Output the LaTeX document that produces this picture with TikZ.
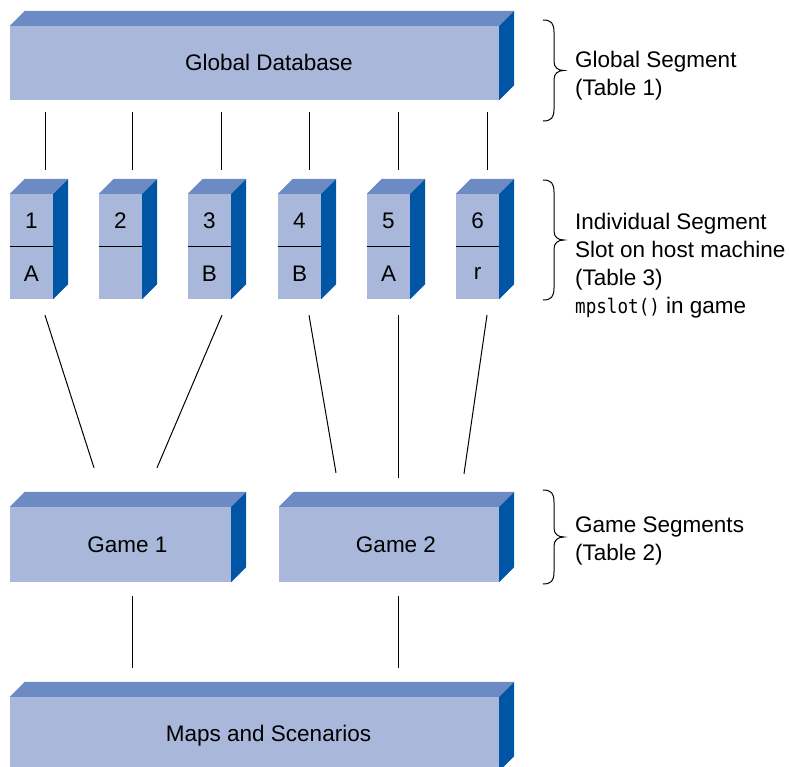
\documentclass[tikz,border=0pt]{standalone}
\usepackage{fontspec}
\setmainfont{Liberation Sans}
\setmonofont[FakeStretch=0.88]{DejaVu Sans Mono}
\usetikzlibrary{calc}

\definecolor{frontc}{HTML}{A9B7DB}
\definecolor{topc}{HTML}{6C8AC4}
\definecolor{sidec}{HTML}{0055A5}

% top and right faces of a box whose front face is the node #1
\newcommand\boxfaces[1]{%
  \fill[topc] (#1.north west) -- ++(15,-15) -- ($(#1.north east)+(15,-15)$) -- (#1.north east) -- cycle;
  \fill[sidec] (#1.north east) -- ++(15,-15) -- ($(#1.south east)+(15,-15)$) -- (#1.south east) -- cycle;
}
% curly brace opening to the left, top end at (#1,#2), bottom end at (#1,#3), tip at mid height
\newcommand\sidebrace[3]{%
  \pgfmathsetmacro\bm{(#2+#3)/2}
  \draw[bracel] (#1,#2) .. controls (#1+8,#2) and (#1+11,#2+3) .. (#1+11,#2+12)
    -- (#1+11,\bm-9) .. controls (#1+11,\bm-3) and (#1+15,\bm) .. (#1+21,\bm)
    .. controls (#1+15,\bm) and (#1+11,\bm+3) .. (#1+11,\bm+9)
    -- (#1+11,#3-12) .. controls (#1+11,#3-3) and (#1+8,#3) .. (#1,#3);
}

\tikzset{
  x=1pt, y=-1pt,
  front/.style={fill=frontc, draw=none, inner sep=0pt, rectangle},
  boxtext/.style={inner sep=0pt, font=\fontsize{22.5}{27}\selectfont},
  slotbox/.style={front, minimum width=43pt, minimum height=105pt},
  slotlabel/.style={inner sep=0pt, font=\fontsize{22.5}{27}\selectfont},
  link/.style={draw=black, line width=1pt},
  divider/.style={draw=black, line width=1.3pt},
  bracel/.style={draw=black, line width=1pt},
  note/.style={anchor=west, align=left, inner sep=0pt,
    font=\fontsize{22.5}{28}\selectfont},
}

\begin{document}
\begin{tikzpicture}
\useasboundingbox (0,0) rectangle (789,766);
\clip (0,0) rectangle (789,766);

% boxes
\node[front, minimum width=489pt, minimum height=74pt] (gd) at (254.5,63) {};
\boxfaces{gd}
\node[boxtext] (gdt) at ($(gd.center)+(14.5,-1)$) {Global Database};

\foreach \i/\lx/\nm/\lab in {1/10/1/A, 2/99/2/, 3/188/3/B, 4/278/4/B, 5/367/5/A, 6/456/6/r}{
  \node[slotbox] (s\i) at (\lx+21.5,246.5) {};
  \boxfaces{s\i}
  \draw[divider] (s\i.west) -- (s\i.east);
  \node[slotlabel] (n\i) at ($(s\i.center)+(0,-26)$) {\nm};
  \node[slotlabel] (l\i) at ($(s\i.center)+(0,27)$) {\lab};
}

\node[front, minimum width=221pt, minimum height=75pt] (g1) at (120.5,544.5) {};
\boxfaces{g1}
\node[boxtext] (g1t) at ($(g1.center)+(7,0)$) {Game 1};
\node[front, minimum width=220pt, minimum height=75pt] (g2) at (389,544.5) {};
\boxfaces{g2}
\node[boxtext] (g2t) at ($(g2.center)+(7,0)$) {Game 2};

\node[front, minimum width=489pt, minimum height=74pt] (ms) at (254.5,734) {};
\boxfaces{ms}
\node[boxtext] (mst) at ($(ms.center)+(14,2)$) {Maps and Scenarios};

% global database to slots
\foreach \i/\dx in {1/13.5, 2/11.5, 3/11.5, 4/9.5, 5/9.5, 6/9.5}{
  \coordinate (t\i) at ($(s\i.north)+(\dx,0)$);
  \draw[link] ($(gd.south -| t\i)+(0,12)$) -- ($(t\i)+(0,-24)$);
}

% slots to games
\coordinate (a1) at ($(s1.south)+(13.5,16)$);
\coordinate (b1) at ($(g1.north)+(-26.5,-39)$);
\coordinate (a3) at ($(s3.south)+(12.5,16)$);
\coordinate (b3) at ($(g1.north)+(36.5,-39)$);
\coordinate (a4) at ($(s4.south)+(9.5,16)$);
\coordinate (b4) at ($(g2.north)+(-53,-34)$);
\coordinate (a5) at ($(s5.south)+(9.5,16)$);
\coordinate (b5) at ($(g2.north)+(9,-29)$);
\coordinate (a6) at ($(s6.south)+(9.5,16)$);
\coordinate (b6) at ($(g2.north)+(75,-33)$);
\foreach \i in {1,3,4,5,6}{
  \draw[link] (a\i) -- (b\i);
}

% games to maps and scenarios
\draw[link] ($(g1.south)+(11.5,14)$) -- ($(g1.south |- ms.north)+(11.5,-29)$);
\draw[link] ($(g2.south)+(9,14)$) -- ($(g2.south |- ms.north)+(9,-29)$);

% braces and notes
\sidebrace{543}{20}{121}
\node[note] (ngs) at (575,76) {Global Segment\\(Table 1)};
\sidebrace{543}{180}{300}
\node[note] (nis) at (575,266) {Individual Segment\\Slot on host machine\\(Table 3)\\{\ttfamily\fontsize{20}{28}\selectfont mpslot()} in game};
\sidebrace{543}{490}{584}
\node[note] (ngm) at (575,541) {Game Segments\\(Table 2)};
\end{tikzpicture}
\end{document}
